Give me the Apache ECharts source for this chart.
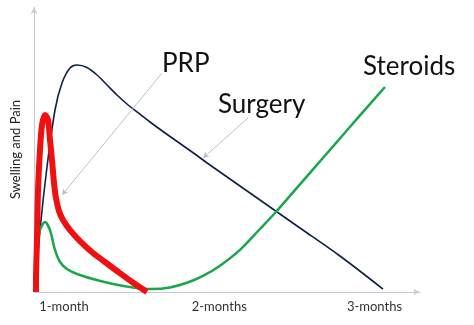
<!DOCTYPE html>
<html>
<head>
<meta charset="utf-8">
<script src="https://cdn.jsdelivr.net/npm/echarts@6/dist/echarts.min.js"></script>
<style>html,body{margin:0;padding:0;background:#fff}#c{width:474px;height:325px}</style>
</head>
<body>
<div id="c"></div>
<script>
// x in days, y in relative "swelling and pain" units (0-100)
const tickDays = [30, 60, 90];
const tickLabels = ['1-month', '2-months', '3-months'];
const surgery = [[24.4,0.7],[25.36,21.75],[26.71,43.86],[28.26,63.86],[29.61,73.33],[31.16,78.6],[32.51,79.65],[34.44,78.77],[36.38,76.14],[38.31,72.63],[40.24,69.12],[42.17,65.96],[44.11,63.16],[46.62,59.65],[49.13,56.32],[52.42,52.11],[55.7,47.89],[58.21,44.56],[65.94,34.74],[75.6,22.46],[83.33,12.63],[91.64,1.05]];
const prp = [[24.59,0],[24.59,4.21],[24.78,18.25],[24.98,35.79],[25.36,49.82],[25.75,58.6],[26.33,62.1],[26.91,60.35],[27.29,53.33],[27.68,46.32],[28.07,38.25],[28.45,32.98],[29.03,28.42],[29.81,25.26],[31.16,21.75],[33.09,17.89],[35.6,13.68],[37.92,10.53],[40.24,7.37],[42.75,4.04],[46.04,0]];
const steroids = [[24.4,0.7],[24.78,12.98],[25.36,21.75],[26.33,24.56],[27.29,21.75],[28.26,14.74],[29.23,10.53],[30.58,8.07],[32.51,6.32],[35.6,4.56],[39.47,2.81],[43.33,1.58],[47.0,1.05],[50.48,1.61],[53.77,3.23],[56.86,5.65],[60.14,9.23],[64.01,14.77],[67.87,22.11],[70.77,27.72],[74.25,34.95],[78.12,43.02],[82.37,51.89],[87.2,61.96],[92.03,71.93]];
const prpArrow = [[48.94,76.8],[29.61,34.0]];
const surgeryArrow = [[65.56,61.05],[56.86,47.0]];

const chart = echarts.init(document.getElementById('c'));
const font = 'Lato, "Open Sans", sans-serif';
const annotArrow = (coords) => ({
  silent: true, symbol: ['none', 'arrow'], symbolSize: [5, 6],
  lineStyle: { color: '#b9c1d2', width: 1, type: 'solid' },
  itemStyle: { color: '#6e86b8' },
  label: { show: false },
  data: [[{ coord: coords[0] }, { coord: coords[1] }]]
});
chart.setOption({
  animation: false,
  grid: { left: 34, right: 54, top: 7, bottom: 33 },
  xAxis: {
    type: 'value', min: 24.2, max: 98.8,
    splitLine: { show: false },
    axisLine: { lineStyle: { color: '#c5cad6', width: 1 }, symbol: ['none', 'arrow'], symbolSize: [5, 7] },
    axisTick: { show: false },
    axisLabel: {
      customValues: tickDays, color: '#333', fontSize: 13, fontFamily: font, margin: 8,
      formatter: v => tickLabels[tickDays.indexOf(v)] || ''
    }
  },
  yAxis: {
    type: 'value', min: 0, max: 100,
    name: 'Swelling and Pain', nameLocation: 'middle', nameRotate: 90, nameGap: 12,
    nameTextStyle: { color: '#222', fontSize: 13, fontFamily: font },
    splitLine: { show: false },
    axisLine: { show: true, lineStyle: { color: '#c5cad6', width: 1 }, symbol: ['none', 'arrow'], symbolSize: [5, 7] },
    axisTick: { show: false },
    axisLabel: { show: false }
  },
  series: [
    { type: 'line', name: 'Surgery', data: surgery, smooth: 0.3, showSymbol: false,
      lineStyle: { color: '#0f1e4d', width: 1.6 }, markLine: annotArrow(surgeryArrow) },
    { type: 'line', name: 'Steroids', data: steroids, smooth: 0.3, showSymbol: false,
      lineStyle: { color: '#1ba64c', width: 2.5 } },
    { type: 'line', name: 'PRP', data: prp, smooth: 0.3, showSymbol: false,
      lineStyle: { color: '#ee1111', width: 6 }, markLine: annotArrow(prpArrow) }
  ],
  graphic: [
    { type: 'text', left: 162, top: 51, style: { text: 'PRP', font: '26px ' + font, fill: '#111' } },
    { type: 'text', left: 218, top: 92, style: { text: 'Surgery', font: '26px ' + font, fill: '#111' } },
    { type: 'text', left: 363, top: 54, style: { text: 'Steroids', font: '26px ' + font, fill: '#111' } }
  ]
});
</script>
</body>
</html>
